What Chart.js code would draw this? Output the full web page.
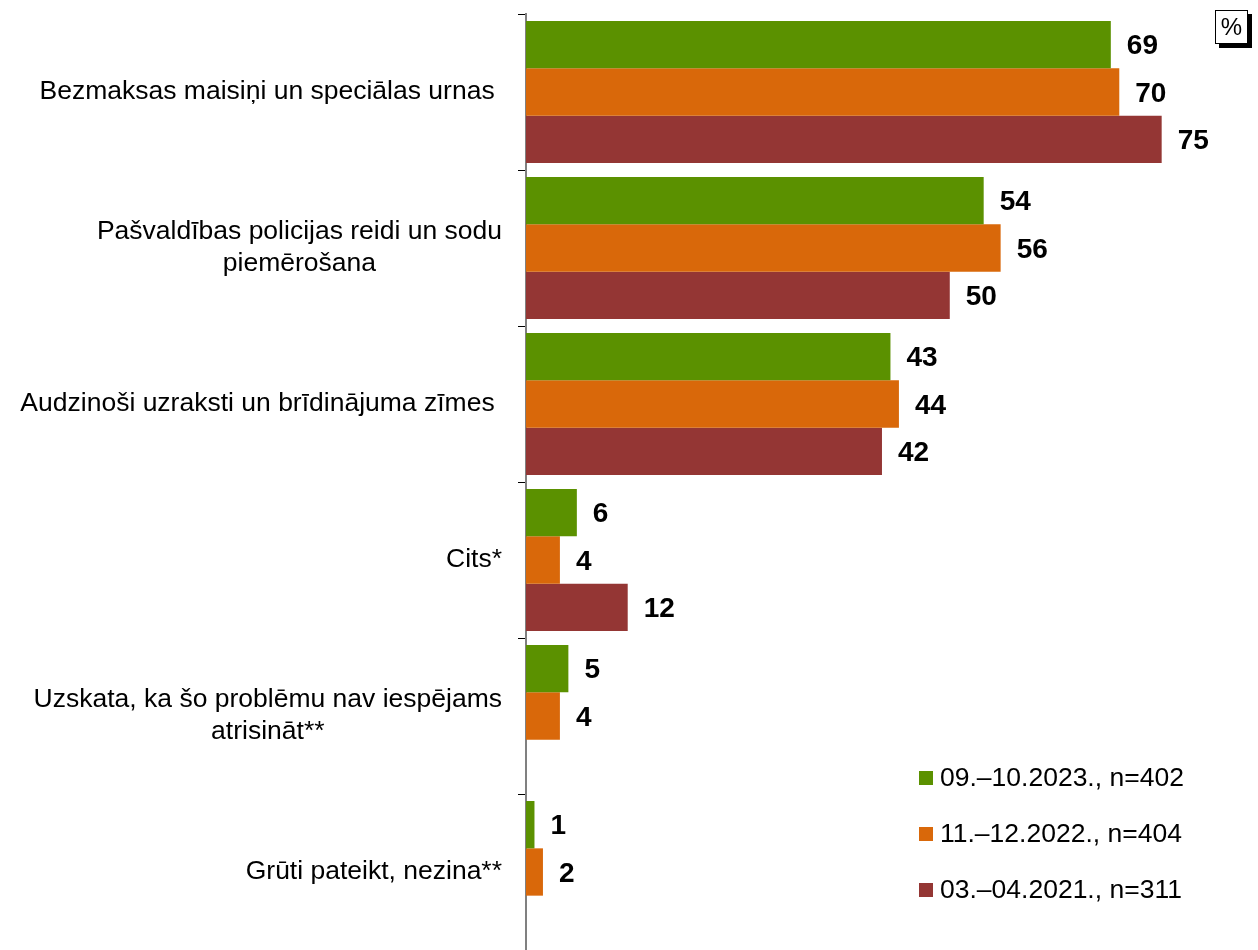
<!DOCTYPE html>
<html lang="lv">
<head>
    <meta charset="UTF-8">
    <title>Atkritumu problēmas risinājumi</title>
    <script src="https://cdn.jsdelivr.net/npm/chart.js"></script>
    <style>
        body { margin: 0; background: #fff; font-family: "Liberation Sans", Arial, sans-serif; }
        #wrap { position: relative; width: 1258px; height: 950px; }
        #pct {
            position: absolute; left: 1215px; top: 10px; width: 31px; height: 32px;
            border: 1px solid #000; background: #fff; box-shadow: 4px 4px 0 #000;
            font-size: 24px; text-align: center; line-height: 32px;
        }
    </style>
</head>
<body>
    <div id="wrap">
        <canvas id="chart" width="1258" height="950"></canvas>
        <div id="pct">%</div>
    </div>

    <script>
        // dati (dažiem nosaukumiem oriģinālā ir atstarpe beigās)
        var categories = [
            ["Bezmaksas maisiņi un speciālas urnas "],
            ["Pašvaldības policijas reidi un sodu", "piemērošana"],
            ["Audzinoši uzraksti un brīdinājuma zīmes "],
            ["Cits*"],
            ["Uzskata, ka šo problēmu nav iespējams", "atrisināt**"],
            ["Grūti pateikt, nezina**"]
        ];
        var seriesNames = ["09.–10.2023., n=402", "11.–12.2022., n=404", "03.–04.2021., n=311"];
        var values2023 = [69, 54, 43, 6, 5, 1];
        var values2022 = [70, 56, 44, 4, 4, 2];
        var values2021 = [75, 50, 42, 12, null, null];
        var colors = ["#5B9100", "#D9680A", "#943634"];

        var FONT = '"Liberation Sans", Arial, sans-serif';

        // vērtību uzraksti pie stabiņiem
        var valueLabels = {
            id: 'valueLabels',
            afterDatasetsDraw: function (chart) {
                var ctx = chart.ctx;
                ctx.save();
                ctx.font = 'bold 28px ' + FONT;
                ctx.fillStyle = '#000';
                ctx.textAlign = 'left';
                ctx.textBaseline = 'middle';
                chart.data.datasets.forEach(function (ds, i) {
                    chart.getDatasetMeta(i).data.forEach(function (bar, j) {
                        if (ds.data[j] == null) return;
                        ctx.fillText(ds.data[j], bar.x + 16, bar.y + 2);
                    });
                });
                ctx.restore();
            }
        };

        // kategoriju nosaukumi (rindas centrētas, bloks pie labās malas)
        var catLabels = {
            id: 'catLabels',
            afterDraw: function (chart) {
                var ctx = chart.ctx;
                var y = chart.scales.y;
                ctx.save();
                ctx.font = '26.5px ' + FONT;
                ctx.fillStyle = '#000';
                ctx.textAlign = 'center';
                ctx.textBaseline = 'middle';
                categories.forEach(function (lines, i) {
                    var w = Math.max.apply(null, lines.map(function (l) { return ctx.measureText(l).width; }));
                    var cx = 502 - w / 2;
                    var cy = y.getPixelForValue(i);
                    var top = cy - (lines.length - 1) * 16;
                    lines.forEach(function (l, k) {
                        ctx.fillText(l, cx, top + k * 32);
                    });
                });

                // leģenda
                ctx.textAlign = 'left';
                seriesNames.forEach(function (name, i) {
                    var ly = 778 + i * 56;
                    ctx.fillStyle = colors[i];
                    ctx.fillRect(919, ly - 7, 14, 14);
                    ctx.fillStyle = '#000';
                    ctx.fillText(name, 940, ly + 1);
                });
                ctx.restore();
            }
        };

        var chart = new Chart(document.getElementById('chart'), {
            type: 'bar',
            data: {
                labels: categories.map(function (c) { return c.join(' ').trim(); }),
                datasets: [
                    { label: seriesNames[0], data: values2023, backgroundColor: colors[0] },
                    { label: seriesNames[1], data: values2022, backgroundColor: colors[1] },
                    { label: seriesNames[2], data: values2021, backgroundColor: colors[2] }
                ]
            },
            options: {
                indexAxis: 'y',
                responsive: false,
                animation: false,
                layout: { padding: { top: 14, right: 37, bottom: 0, left: 0 } },
                datasets: { bar: { categoryPercentage: 0.91, barPercentage: 1 } },
                plugins: { legend: { display: false }, tooltip: { enabled: false } },
                scales: {
                    x: { display: false, min: 0, max: 82 },
                    y: {
                        afterFit: function (s) { s.width = 526; },
                        ticks: { display: false },
                        grid: { drawOnChartArea: false, tickLength: 8, color: '#000', lineWidth: 1 },
                        border: { color: '#808080', width: 2 }
                    }
                }
            },
            plugins: [valueLabels, catLabels]
        });
    </script>
</body>
</html>
